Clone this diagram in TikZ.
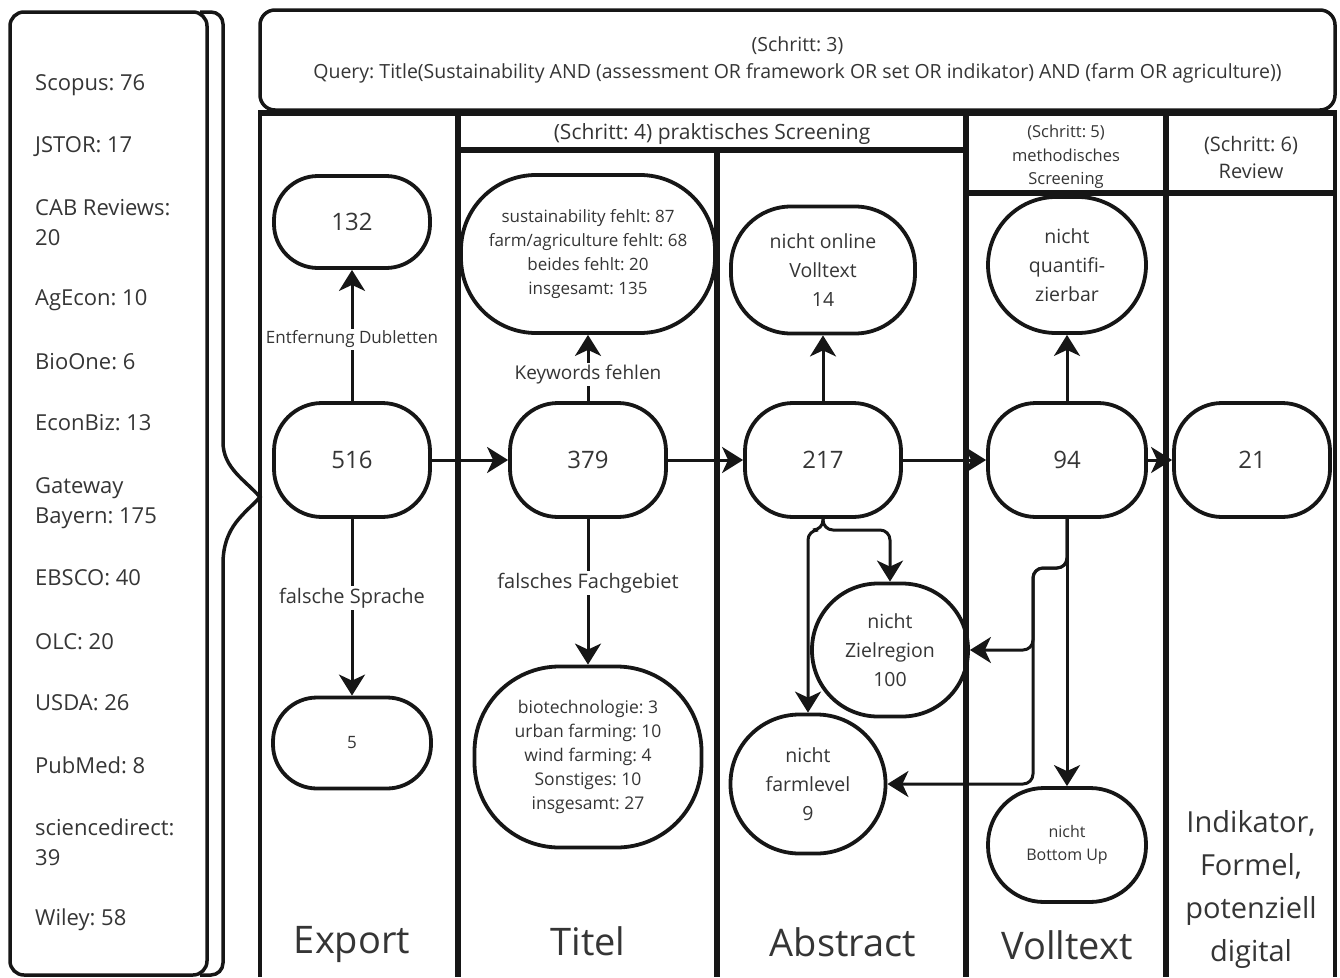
\documentclass[tikz,border=0pt]{standalone}
\usepackage{fontspec}
\setmainfont{Open Sans}
\usepackage{tikz}
\usetikzlibrary{arrows.meta}
\definecolor{ink}{HTML}{161616}
\definecolor{txt}{HTML}{353535}
\newcommand{\fsz}[2]{\fontsize{#1}{#2}\selectfont}
\frenchspacing
\tikzstyle{every picture}=[>={Stealth[length=21pt,width=26pt,inset=6pt]}]
\tikzstyle{stage}=[draw=ink, line width=3.8pt, text=txt, align=center, inner sep=0pt, minimum width=156pt, minimum height=114pt, rounded corners=48pt, font=\fsz{24}{29}]
\tikzstyle{flow}=[draw=ink, line width=3pt]
\tikzstyle{elabel}=[fill=white, text=txt, inner sep=2pt]
\tikzstyle{lane}=[draw=ink, line width=3.5pt]
\tikzstyle{thicklane}=[draw=ink, line width=5.5pt]
\tikzstyle{src}=[anchor=west, align=left, inner sep=0pt, text=txt, font=\fsz{22}{30}]

\begin{document}
\begin{tikzpicture}[x=1pt,y=-1pt]
\useasboundingbox (0,0) rectangle (1340,977);

% databases
\draw[lane, rounded corners=14pt] (10,12) rectangle (207,975);
\node[src] (s1) at (35,85) {Scopus: 76};
\node[src] (s2) at (35,147) {JSTOR: 17};
\node[src] (s3) at (35,223) {CAB Reviews:\\20};
\node[src] (s4) at (35,300) {AgEcon: 10};
\node[src] (s5) at (35,362) {BioOne: 6};
\node[src] (s6) at (35,423) {EconBiz: 13};
\node[src] (s7) at (35,503) {Gateway\\Bayern: 175};
\node[src] (s8) at (35,578) {EBSCO: 40};
\node[src] (s9) at (35,642) {OLC: 20};
\node[src] (s10) at (35,703) {USDA: 26};
\node[src] (s11) at (35,765) {PubMed: 8};
\node[src] (s12) at (35,842) {sciencedirect:\\39};
\node[src] (s13) at (35,920) {Wiley: 58};
\draw[lane] (200,12) [rounded corners=12pt] -- (223,12) -- (223,430) [sharp corners]
  .. controls (223,468) and (245,480) .. (260,497)
  .. controls (245,514) and (223,526) .. (223,564) [rounded corners=12pt] -- (223,975) -- (200,975);

% query
\node[draw=ink, line width=3.5pt, rounded corners=15pt, minimum width=1075pt, minimum height=100pt, inner sep=0pt, align=center, text=txt, font=\fsz{19.5}{27}] (query) at (797.5,60)
  {(Schritt: 3)\\Query: Title(Sustainability AND (assessment OR framework OR set OR indikator) AND (farm OR agriculture))};

% lanes
\draw[lane] (260,113) -- (260,977);
\draw[lane] (1335,113) -- (1335,977);
\draw[thicklane] (258,113) -- (1337,113);
\draw[thicklane] (458,113) -- (458,977);
\draw[thicklane] (458,150) -- (966,150);
\draw[thicklane] (717,150) -- (717,977);
\draw[thicklane] (966,113) -- (966,977);
\draw[thicklane] (966,193) -- (1335,193);
\draw[thicklane] (1166,113) -- (1166,977);

\node[text=txt, font=\fsz{21}{26}] (h4) at (712,134) {(Schritt: 4) praktisches Screening};
\node[text=txt, align=center, font=\fsz{16.5}{23.5}] (h5) at (1066,157) {(Schritt: 5)\\methodisches\\Screening};
\node[text=txt, align=center, font=\fsz{20}{27}] (h6) at (1251,157) {(Schritt: 6)\\Review};

\node[text=txt, font=\fsz{38}{44}] (tExport) at (352,944) {Export};
\node[text=txt, font=\fsz{38}{44}] (tTitel) at (588,941) {Titel};
\node[text=txt, font=\fsz{38}{44}] (tAbstract) at (843,942) {Abstract};
\node[text=txt, font=\fsz{38}{44}] (tVolltext) at (1067,945) {Volltext};
\node[text=txt, align=center, font=\fsz{29}{43}] (tReview) at (1251,889) {Indikator,\\Formel,\\potenziell\\digital};

% flow
\node[stage] (n516) at (352,460) {516};
\node[stage, minimum height=92pt, rounded corners=44pt] (n132) at (352,222) {132};
\node[stage, minimum width=158pt, minimum height=91pt, rounded corners=44pt, font=\fsz{17}{22}] (n5) at (352,743) {5};
\node[stage] (n379) at (588,460) {379};
\node[stage, minimum width=254pt, minimum height=158pt, rounded corners=75pt, font=\fsz{17}{24}] (nkey) at (588,254)
  {sustainability fehlt: 87\\farm/agriculture fehlt: 68\\beides fehlt: 20\\insgesamt: 135};
\node[stage, minimum width=227pt, minimum height=181pt, rounded corners=85pt, font=\fsz{17.5}{24}] (nfach) at (588,757)
  {biotechnologie: 3\\urban farming: 10\\wind farming: 4\\Sonstiges: 10\\insgesamt: 27};
\node[stage] (n217) at (823,460) {217};
\node[stage, minimum width=184pt, minimum height=127pt, rounded corners=60pt, font=\fsz{19.5}{29}] (nonline) at (823,270) {nicht online\\Volltext\\14};
\node[stage, minimum width=156pt, minimum height=133pt, rounded corners=66pt, font=\fsz{19.5}{29}] (nziel) at (890,650) {nicht\\Zielregion\\100};
\node[stage, minimum width=155pt, minimum height=139pt, rounded corners=69pt, font=\fsz{19.5}{29}] (nfarm) at (808,784) {nicht\\farmlevel\\9};
\node[stage, minimum width=158pt] (n94) at (1067,460) {94};
\node[stage, minimum width=158pt, minimum height=136pt, rounded corners=68pt, font=\fsz{19.5}{29}] (nquant) at (1067,265) {nicht\\quantifi-\\zierbar};
\node[stage, minimum width=158pt, minimum height=114pt, rounded corners=56pt, font=\fsz{16}{23}] (nbottom) at (1067,845) {nicht\\Bottom Up};
\node[stage] (n21) at (1252,460) {21};

\path[->, flow] (n516) -- node[elabel, pos=0.47, font=\fsz{17}{20}] (ldub) {Entfernung Dubletten} (n132);
\path[->, flow] (n516) -- node[elabel, pos=0.45, font=\fsz{20}{24}] (lsprache) {falsche Sprache} (n5);
\path[->, flow] (n516) -- (n379);
\path[->, flow] (n379) -- node[elabel, pos=0.4, font=\fsz{19}{22}] (lkey) {Keywords fehlen} (nkey);
\path[->, flow] (n379) -- node[elabel, pos=0.44, font=\fsz{20}{24}] (lfach) {falsches Fachgebiet} (nfach);
\path[->, flow] (n379) -- (n217);
\path[->, flow] (n217) -- (nonline);
\path[->, flow] (n217) -- (n94);
\path[->, flow, rounded corners=10pt] (n217.south) -- (823,530) -- (890,530) -- (nziel.north);
\path[->, flow, rounded corners=10pt] (n217.south) -- (823,530) -- (808,530) -- (nfarm.north);
\path[->, flow] (n94) -- (nquant);
\path[->, flow] (n94) -- (nbottom);
\path[->, flow] (n94) -- (n21);
\path[->, flow, rounded corners=10pt] (n94.south) -- (1067,568) -- (1033,568) -- (1033,650) -- (nziel.east);
\path[->, flow, rounded corners=10pt] (n94.south) -- (1067,568) -- (1033,568) -- (1033,784) -- (nfarm.east);
\end{tikzpicture}
\end{document}
